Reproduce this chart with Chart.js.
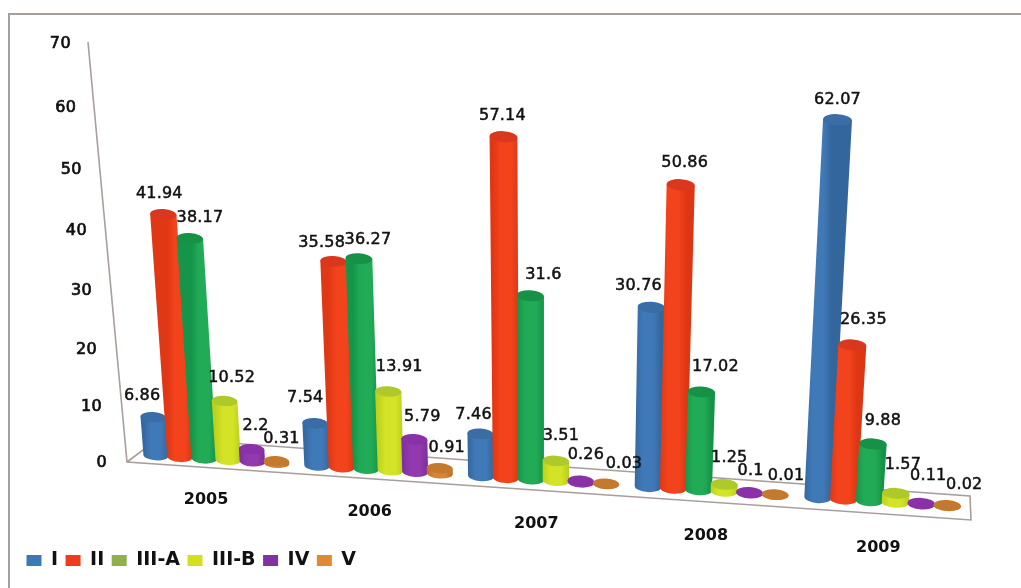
<!DOCTYPE html>
<html>
<head>
<meta charset="utf-8">
<title>Chart</title>
<script src="https://cdn.jsdelivr.net/npm/chart.js@4"></script>
<style>
  html, body { margin: 0; background: #fff; }
  #frame { position: absolute; left: 8px; top: 13px; width: 1013px; height: 575px;
           border-top: 2px solid #a89e9b; border-left: 2px solid #a89e9b; box-sizing: border-box; }
  #wrap { position: absolute; left: 0; top: 0; width: 1021px; height: 588px; }
</style>
</head>
<body>
<div id="frame"></div>
<div id="wrap"><canvas id="chart" width="1021" height="588"></canvas></div>
<script>
// chart data
var years = ['2005', '2006', '2007', '2008', '2009'];
var seriesNames = ['I', 'II', 'III-A', 'III-B', 'IV', 'V'];
var classI = [6.86, 7.54, 7.46, 30.76, 62.07];
var classII = [41.94, 35.58, 57.14, 50.86, 26.35];
var classIIIA = [38.17, 36.27, 31.6, 17.02, 9.88];
var classIIIB = [10.52, 13.91, 3.51, 1.25, 1.57];
var classIV = [2.2, 5.79, 0.26, 0.1, 0.11];
var classV = [0.31, 0.91, 0.03, 0.01, 0.02];
var seriesValues = [classI, classII, classIIIA, classIIIB, classIV, classV];

// colours
var legendColors = ['#3d78b6', '#f03c1e', '#8fb14c', '#d2e01e', '#8231a3', '#e08a33'];
var bodyColors = [
  ['#34689f', '#4079b8', '#33669c'],
  ['#e03815', '#f2431c', '#de3613'],
  ['#15954a', '#22ab57', '#149246'],
  ['#bcd21c', '#d4e326', '#b8ce1a'],
  ['#7f2f9f', '#9139ad', '#7c2d9b'],
  ['#bd6e2b', '#d68636', '#ba6c29']
];
var capColors = ['#3a6ca6', '#d9381f', '#179145', '#aec92a', '#8a30a8', '#c4792f'];

// where the plot rectangle lands on the page (value 0 and value 70 edges)
var quad = { bl: [136, 454], br: [969, 507], tr: [1004, 74.5], tl: [104, 37.5] };

// value label shift from its bar top, [dx, dy], one row per year
var labelShift = [
  [[-11, -21], [-4, -21], [10, -21], [7, -23], [4, -23], [5, -22]],
  [[-10, -25], [-12, -19], [9, -19], [11, -25], [8, -22], [7, -20]],
  [[-7, -19], [-1, -21], [13, -21], [5, -25], [5, -26], [18, -20]],
  [[-13, -21], [4, -22], [14, -25], [5, -26], [1, -22], [11, -19]],
  [[0, -20], [11, -25], [10, -23], [7, -29], [7, -27], [17, -21]]
];

function makeProjection(q) {
  var x0 = q.bl[0], y0 = q.bl[1], x1 = q.br[0], y1 = q.br[1];
  var x2 = q.tr[0], y2 = q.tr[1], x3 = q.tl[0], y3 = q.tl[1];
  var dx1 = x1 - x2, dx2 = x3 - x2, sx = x0 - x1 + x2 - x3;
  var dy1 = y1 - y2, dy2 = y3 - y2, sy = y0 - y1 + y2 - y3;
  var den = dx1 * dy2 - dx2 * dy1;
  var g = (sx * dy2 - dx2 * sy) / den;
  var h = (dx1 * sy - sx * dy1) / den;
  var a = x1 - x0 + g * x1, b = x3 - x0 + h * x3;
  var d = y1 - y0 + g * y1, e = y3 - y0 + h * y3;
  return function (u, v) {
    var w = g * u + h * v + 1;
    return [(a * u + b * v + x0) / w, (d * u + e * v + y0) / w];
  };
}
var project = makeProjection(quad);

// chart pixel -> page position
function toPage(chart, px, py) {
  var area = chart.chartArea;
  return project((px - area.left) / (area.right - area.left), (area.bottom - py) / (area.bottom - area.top));
}

function drawCylinder(ctx, chart, bar, s) {
  var half = bar.width / 2;
  var bL = toPage(chart, bar.x - half, bar.base), bR = toPage(chart, bar.x + half, bar.base);
  var tL = toPage(chart, bar.x - half, bar.y), tR = toPage(chart, bar.x + half, bar.y);
  var rx = Math.hypot(tR[0] - tL[0], tR[1] - tL[1]) / 2;
  var ry = rx * 0.4;
  var rot = Math.atan2(bR[1] - bL[1], bR[0] - bL[0]);
  var bx = (bL[0] + bR[0]) / 2, by = (bL[1] + bR[1]) / 2;
  var tx = (tL[0] + tR[0]) / 2, ty = (tL[1] + tR[1]) / 2;

  // shaded across the width only
  var grad = ctx.createLinearGradient(bL[0], by, bR[0], by);
  grad.addColorStop(0, bodyColors[s][0]);
  grad.addColorStop(0.3, bodyColors[s][1]);
  grad.addColorStop(0.7, bodyColors[s][1]);
  grad.addColorStop(1, bodyColors[s][2]);
  ctx.fillStyle = grad;
  ctx.beginPath();
  ctx.moveTo(tL[0], tL[1]);
  ctx.lineTo(tR[0], tR[1]);
  ctx.lineTo(bR[0], bR[1]);
  ctx.ellipse(bx, by, Math.hypot(bR[0] - bL[0], bR[1] - bL[1]) / 2, ry, rot, 0, Math.PI, false);
  ctx.closePath();
  ctx.fill();

  ctx.fillStyle = capColors[s];
  ctx.beginPath();
  ctx.ellipse(tx, ty, rx, ry, rot, 0, Math.PI * 2);
  ctx.fill();
}

var cylinderPlugin = {
  id: 'cylinders',
  // the flat rectangles are replaced by the cylinders below
  beforeDatasetDraw: function () { return false; },
  beforeDatasetsDraw: function (chart) {
    var ctx = chart.ctx, area = chart.chartArea, yScale = chart.scales.y, xScale = chart.scales.x;

    // axis point sits a little in front of the plot edge
    function axisPoint(value) {
      var p = toPage(chart, area.left, yScale.getPixelForValue(value));
      return [p[0] - 9 - 7 * value / 70, p[1] + 8 - 3.5 * value / 70];
    }
    var c0 = toPage(chart, area.left, area.bottom), c1 = toPage(chart, area.right, area.bottom);
    var a70 = axisPoint(70), a0 = axisPoint(0);

    ctx.save();
    ctx.strokeStyle = '#a89e9b';
    ctx.lineWidth = 1.6;
    ctx.beginPath();
    ctx.moveTo(a70[0], a70[1]);
    ctx.lineTo(a0[0], a0[1]);
    ctx.lineTo(c1[0] + 2, c1[1] + 13);
    ctx.lineTo(c1[0] + 1, c1[1] - 11);
    ctx.lineTo(c0[0] + 23, c0[1] - 16);
    ctx.lineTo(a0[0], a0[1]);
    ctx.stroke();

    // value axis ticks
    ctx.fillStyle = '#111';
    ctx.strokeStyle = '#111';
    ctx.lineWidth = 0.7;
    ctx.font = '16px "DejaVu Sans"';
    ctx.letterSpacing = '0.4px';
    ctx.textAlign = 'right';
    ctx.textBaseline = 'middle';
    yScale.ticks.forEach(function (t) {
      var p = axisPoint(t.value);
      var tx = p[0] - 17 - 3 * (1 - t.value / 70), ty = p[1] + 1 + t.value / 70;
      ctx.fillText(t.label, tx, ty);
      ctx.strokeText(t.label, tx, ty);
    });

    // year labels under each cluster
    ctx.letterSpacing = '0px';
    ctx.font = 'bold 16px "DejaVu Sans"';
    ctx.textAlign = 'center';
    years.forEach(function (y, i) {
      var p = toPage(chart, xScale.getPixelForTick(i), area.bottom);
      ctx.fillText(y, p[0] - 10 + 1.5 * i, p[1] + 41 + 1.25 * i);
    });
    ctx.restore();
  },
  afterDatasetsDraw: function (chart) {
    var ctx = chart.ctx;
    years.forEach(function (y, i) {
      seriesValues.forEach(function (vals, s) {
        drawCylinder(ctx, chart, chart.getDatasetMeta(s).data[i], s);
      });
    });

    // value labels
    ctx.save();
    ctx.fillStyle = '#111';
    ctx.strokeStyle = '#111';
    ctx.lineWidth = 0.5;
    ctx.font = '16px "DejaVu Sans"';
    ctx.letterSpacing = '0.2px';
    ctx.textAlign = 'center';
    ctx.textBaseline = 'middle';
    years.forEach(function (y, i) {
      seriesValues.forEach(function (vals, s) {
        var bar = chart.getDatasetMeta(s).data[i];
        var p = toPage(chart, bar.x, bar.y);
        var lx = p[0] + labelShift[i][s][0], ly = p[1] + labelShift[i][s][1];
        ctx.fillText(String(vals[i]), lx, ly);
        ctx.strokeText(String(vals[i]), lx, ly);
      });
    });
    ctx.restore();
  }
};

new Chart(document.getElementById('chart'), {
  type: 'bar',
  data: {
    labels: years,
    datasets: seriesNames.map(function (name, s) {
      return { label: name, data: seriesValues[s], backgroundColor: legendColors[s], borderWidth: 0 };
    })
  },
  options: {
    responsive: false,
    animation: false,
    categoryPercentage: 0.9,
    barPercentage: 1.05,
    layout: { padding: { left: 19, bottom: 8 } },
    scales: {
      x: { display: false },
      y: { display: false, min: 0, max: 70, ticks: { stepSize: 10 } }
    },
    plugins: {
      tooltip: { enabled: false },
      legend: {
        position: 'bottom',
        align: 'start',
        labels: {
          boxWidth: 15,
          boxHeight: 11,
          padding: 7.5,
          color: '#111',
          font: { family: '"DejaVu Sans"', size: 19, weight: 'bold' }
        }
      }
    }
  },
  plugins: [cylinderPlugin]
});
</script>
</body>
</html>
